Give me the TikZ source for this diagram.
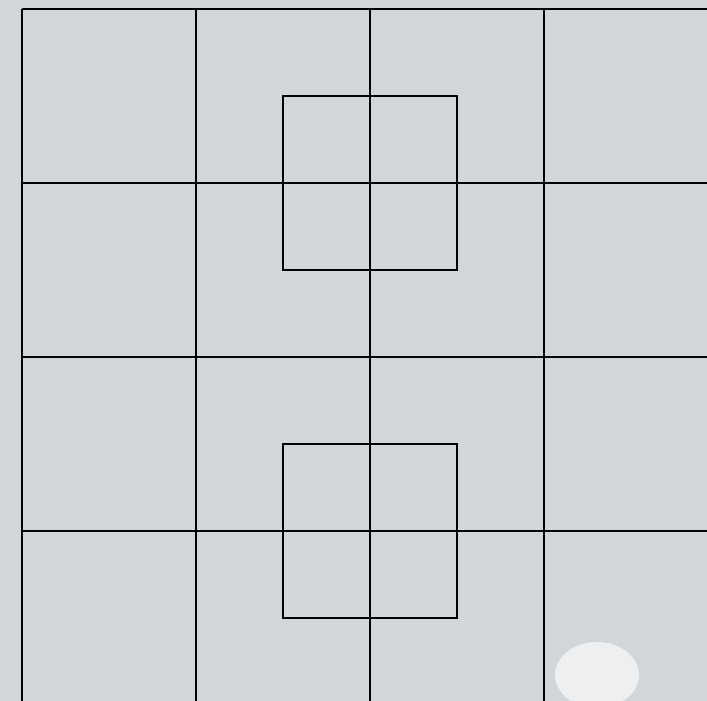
\documentclass[tikz,border=0pt]{standalone}
\usetikzlibrary{positioning}
\definecolor{paper}{HTML}{D3D6D8}
\definecolor{spot}{HTML}{EEEFF0}
\begin{document}
\begin{tikzpicture}[x=1pt, y=-1pt,
    gridline/.style = {draw=black, line width=2pt},
    inner/.style = {draw=black, line width=2pt}]

    \fill[paper] (0,0) rectangle (707,701);
    \useasboundingbox (0,0) rectangle (707,701);
    \fill[spot] (597,675) ellipse (42 and 33);

    \foreach \x in {22,196,370,544}
        \draw[gridline] (\x,9) -- (\x,701);
    \foreach \y in {9,183,357,531}
        \draw[gridline] (22,\y) -- (707,\y);

    \draw[inner] (283,96) rectangle (457,270);
    \draw[inner] (283,444) rectangle (457,618);

\end{tikzpicture}
\end{document}
